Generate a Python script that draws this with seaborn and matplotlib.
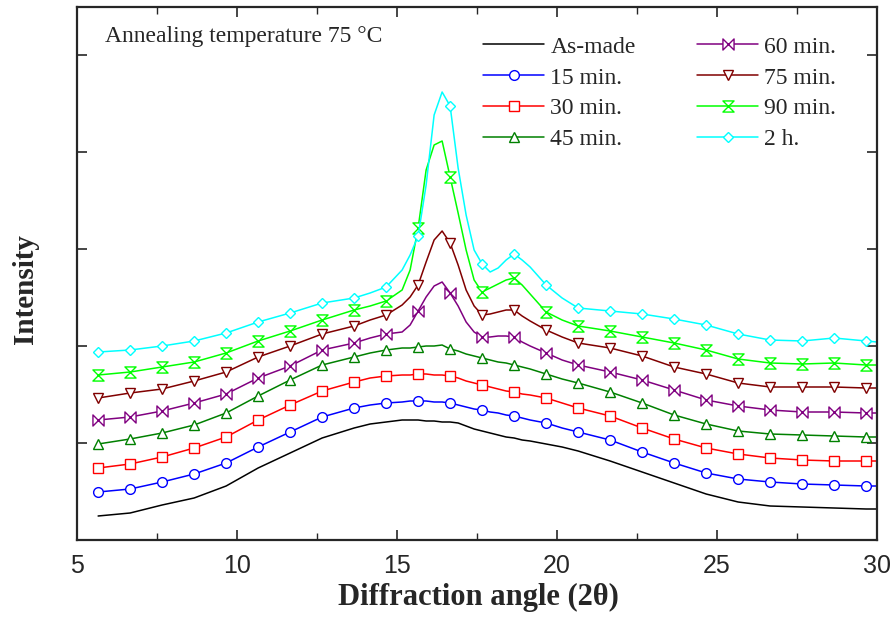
import numpy as np
import pandas as pd
import matplotlib
matplotlib.use("Agg")
import matplotlib.pyplot as plt
from matplotlib.path import Path
from matplotlib.lines import Line2D
import seaborn as sns

# ---------------- data (arbitrary intensity units, curves already stacked) ----------------
angle = [5.66, 6.66, 7.66, 8.66, 9.66, 10.66, 11.66, 12.66, 13.66, 14.16, 14.66,
         15.16, 15.41, 15.66, 15.91, 16.16, 16.41, 16.66, 16.91, 17.16, 17.41,
         17.66, 17.91, 18.16, 18.41, 18.66, 18.91, 19.16, 19.66, 20.16, 20.66,
         21.66, 22.66, 23.66, 24.66, 25.66, 26.66, 27.66, 28.66, 29.66, 30.0]

as_made = [24, 27, 35, 42, 54, 72, 87, 102, 112, 116, 118, 120, 120, 120, 119, 119, 118, 118, 117, 114, 111,
           109, 107, 105, 103, 102, 100, 99, 96, 93, 89, 79, 68, 57, 46, 38, 34, 33, 32, 31, 31]
min15 = [48, 51, 58, 66, 77, 93, 108, 123, 132, 135, 137, 138, 139, 139, 139, 138, 138, 137, 135, 133, 131,
         130, 128, 127, 125, 124, 122, 120, 117, 112, 108, 100, 88, 77, 67, 61, 58, 56, 55, 54, 54]
min30 = [72, 76, 83, 92, 103, 120, 135, 149, 158, 162, 164, 165, 165, 166, 166, 165, 165, 164, 162, 159, 157,
         155, 153, 151, 149, 148, 146, 145, 142, 137, 132, 124, 112, 101, 92, 86, 82, 80, 79, 79, 79]
min45 = [96, 101, 107, 115, 127, 144, 160, 175, 183, 187, 190, 192, 192, 193, 194, 194, 195, 191, 189, 186, 184,
         182, 180, 178, 177, 175, 173, 171, 166, 161, 157, 148, 137, 125, 116, 109, 106, 105, 104, 103, 103]
min60 = [120, 123, 129, 137, 146, 162, 174, 190, 197, 202, 206, 208, 215, 229, 243, 254, 258, 247, 234, 218, 208,
         203, 203, 204, 204, 203, 198, 194, 187, 180, 175, 168, 160, 150, 140, 134, 130, 128, 128, 127, 127]
min75 = [142, 147, 151, 159, 168, 183, 194, 206, 214, 220, 225, 235, 243, 255, 278, 300, 309, 297, 275, 250, 234,
         225, 226, 228, 230, 230, 224, 219, 210, 203, 197, 192, 184, 173, 166, 157, 153, 153, 153, 152, 152]
min90 = [165, 168, 173, 178, 187, 199, 209, 220, 230, 234, 239, 250, 270, 312, 370, 395, 399, 363, 327, 290, 260,
         248, 252, 256, 260, 262, 255, 246, 228, 220, 214, 209, 203, 197, 190, 181, 177, 176, 177, 175, 175]
h2 = [188, 190, 194, 199, 207, 218, 227, 237, 242, 247, 253, 270, 285, 304, 355, 425, 448, 434, 372, 325, 290,
      276, 268, 272, 280, 286, 280, 273, 255, 242, 232, 229, 226, 221, 215, 206, 200, 199, 202, 199, 198]

labels = ["As-made", "15 min.", "30 min.", "45 min.", "60 min.", "75 min.", "90 min.", "2 h."]
series = [as_made, min15, min30, min45, min60, min75, min90, h2]
colors = ["#000000", "#0000FF", "#FF0000", "#008000", "#800080", "#800000", "#00FF00", "#00FFFF"]

# ---------------- markers ----------------
bowtie = Path([(-1, -1), (1, 1), (1, -1), (-1, 1), (-1, -1)],
              [Path.MOVETO, Path.LINETO, Path.LINETO, Path.LINETO, Path.CLOSEPOLY])
hourglass = Path([(-1, 1), (1, 1), (-1, -1), (1, -1), (-1, 1)],
                 [Path.MOVETO, Path.LINETO, Path.LINETO, Path.LINETO, Path.CLOSEPOLY])
markers = [None, "o", "s", "^", bowtie, "v", hourglass, "D"]
msizes = [0, 7, 7, 7, 8, 7.5, 8, 5.5]

sns.set_style("ticks")
plt.rcParams["font.family"] = ["Liberation Serif", "DejaVu Serif"]

fig = plt.figure(figsize=(8.93, 6.22), dpi=100)
ax = fig.add_axes([77 / 893, 82 / 622, 800 / 893, 533 / 622])

mark_idx = [i for i, xv in enumerate(angle) if abs((xv - 5.66) - round(xv - 5.66)) < 1e-6]

for lab, vals, col, mk, ms in zip(labels, series, colors, markers, msizes):
    df = pd.DataFrame({"angle": angle, "intensity": vals})
    kw = dict(color=col, lw=1.1, ax=ax, estimator=None, sort=False)
    if mk is not None:
        kw.update(marker=mk, markevery=mark_idx, markersize=ms,
                  markerfacecolor="white", markeredgecolor=col, markeredgewidth=1.0)
    sns.lineplot(data=df, x="angle", y="intensity", **kw)

ax.set_xlim(5, 30)
ax.set_ylim(0, 533)
ax.set_xticks([5, 10, 15, 20, 25, 30])
ax.set_xticks([7.5, 12.5, 17.5, 22.5, 27.5], minor=True)
ax.set_yticks([97, 194, 291, 388, 485])
ax.set_yticklabels([])
ax.tick_params(axis="both", which="major", direction="in", length=7, width=1.2,
               top=True, right=True, pad=10)
ax.tick_params(axis="both", which="minor", direction="in", length=5, width=1.0,
               top=True, right=True)
for lab in ax.get_xticklabels():
    lab.set_fontfamily(["Liberation Sans", "DejaVu Sans"])
    lab.set_fontsize(18)
for sp in ax.spines.values():
    sp.set_linewidth(1.6)
    sp.set_visible(True)
ax.set_xlabel("")
ax.set_ylabel("")

fig.text(478 / 893, 1 - 597 / 622, "Diffraction angle (2θ)", ha="center", va="center",
         fontsize=22, fontweight="bold")
fig.text(26 / 893, 1 - 289 / 622, "Intensity", ha="center", va="center", rotation=90,
         fontsize=21, fontweight="bold")
fig.text(105 / 893, 1 - 42 / 622, "Annealing temperature 75 °C", ha="left", va="baseline",
         fontsize=17)

handles = []
for col, mk, ms in zip(colors, markers, msizes):
    if mk is None:
        handles.append(Line2D([], [], color=col, lw=1.1))
    else:
        handles.append(Line2D([], [], color=col, lw=1.1, marker=mk, markersize=ms,
                              markerfacecolor="white", markeredgecolor=col))
ax.legend(handles, labels, ncol=2, loc="upper left",
          bbox_to_anchor=(483 / 893, 1 - 36 / 622), bbox_transform=fig.transFigure,
          frameon=False, fontsize=17, handlelength=2.6, handletextpad=0.25,
          columnspacing=2.6, labelspacing=0.4, borderpad=0, borderaxespad=0, markerscale=1.0)

fig.savefig("out.png", dpi=100)
